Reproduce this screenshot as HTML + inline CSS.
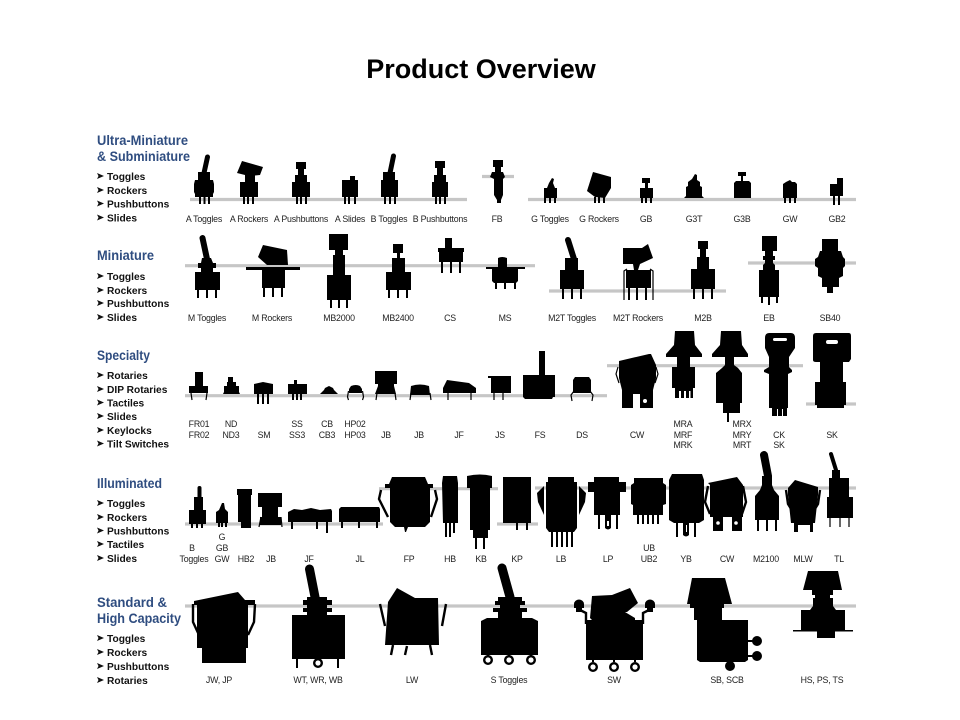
<!DOCTYPE html>
<html><head><meta charset="utf-8"><title>Product Overview</title>
<style>
html,body{margin:0;padding:0;background:#fff}
svg{display:block}
.l{stroke:#c6c6c6;stroke-width:3.2;fill:none}
.p{stroke:#000;stroke-width:2;fill:none}
.w{stroke:#000;stroke-width:1.2;fill:none}
.wing{stroke:#000;stroke-width:2.4;fill:none}
.hd{stroke:#000;fill:none;stroke-linecap:round}
text{font-family:"Liberation Sans",sans-serif}
.t{font-size:27px;font-weight:bold;fill:#000;text-anchor:middle}
.h{font-size:13.5px;font-weight:bold;fill:#2f4d80}
.i{font-size:10.2px;font-weight:bold;fill:#111}
.c{font-size:8.8px;letter-spacing:-.2px;fill:#222;text-anchor:middle}
.soft{filter:blur(.35px)}
</style></head><body>
<svg width="960" height="720" viewBox="0 0 960 720" xmlns="http://www.w3.org/2000/svg">
<rect width="960" height="720" fill="#fff"/>
<text class="t" x="481" y="78">Product Overview</text>

<g class="soft">
<!-- guide lines -->
<path class="l" d="M190 199.5H467M482 176.5H514M528 199.5H856
M185 265.7H535M549 291H726M748 263H856
M185 395.7H607M607 365.7H803M806 404H856
M185 524H383M379 488.7H498M497 524H538M535 488H856
M185 606H856"/>

<!-- Sidebar -->
<text class="h" x="97" y="145" textLength="91" lengthAdjust="spacingAndGlyphs">Ultra-Miniature</text>
<text class="h" x="97" y="161" textLength="93" lengthAdjust="spacingAndGlyphs">&amp; Subminiature</text>
<text class="i" x="107" y="180">Toggles</text><text class="i" x="107" y="194">Rockers</text><text class="i" x="107" y="207.500">Pushbuttons</text><text class="i" x="107" y="221.500">Slides</text>
<text class="h" x="97" y="260" textLength="57" lengthAdjust="spacingAndGlyphs">Miniature</text>
<text class="i" x="107" y="280">Toggles</text><text class="i" x="107" y="294">Rockers</text><text class="i" x="107" y="307">Pushbuttons</text><text class="i" x="107" y="321">Slides</text>
<text class="h" x="97" y="360" textLength="53" lengthAdjust="spacingAndGlyphs">Specialty</text>
<text class="i" x="107" y="379">Rotaries</text><text class="i" x="107" y="393">DIP Rotaries</text><text class="i" x="107" y="406.500">Tactiles</text><text class="i" x="107" y="420">Slides</text><text class="i" x="107" y="434">Keylocks</text><text class="i" x="107" y="447.500">Tilt Switches</text>
<text class="h" x="97" y="488" textLength="65" lengthAdjust="spacingAndGlyphs">Illuminated</text>
<text class="i" x="107" y="507">Toggles</text><text class="i" x="107" y="521">Rockers</text><text class="i" x="107" y="534.500">Pushbuttons</text><text class="i" x="107" y="548">Tactiles</text><text class="i" x="107" y="562">Slides</text>
<text class="h" x="97" y="607" textLength="70" lengthAdjust="spacingAndGlyphs">Standard &amp;</text>
<text class="h" x="97" y="623" textLength="84" lengthAdjust="spacingAndGlyphs">High Capacity</text>
<text class="i" x="107" y="642">Toggles</text><text class="i" x="107" y="656">Rockers</text><text class="i" x="107" y="670">Pushbuttons</text><text class="i" x="107" y="684">Rotaries</text>
<path fill="#111" d="M97 173l7 3-7 3 1.500-3zM97 187l7 3-7 3 1.500-3zM97 200.500l7 3-7 3 1.500-3zM97 214.500l7 3-7 3 1.500-3z
M97 273l7 3-7 3 1.500-3zM97 287l7 3-7 3 1.500-3zM97 300l7 3-7 3 1.500-3zM97 314l7 3-7 3 1.500-3z
M97 372l7 3-7 3 1.500-3zM97 386l7 3-7 3 1.500-3zM97 399.500l7 3-7 3 1.500-3zM97 413l7 3-7 3 1.500-3zM97 427l7 3-7 3 1.500-3zM97 440.500l7 3-7 3 1.500-3z
M97 500l7 3-7 3 1.500-3zM97 514l7 3-7 3 1.500-3zM97 527.500l7 3-7 3 1.500-3zM97 541l7 3-7 3 1.500-3zM97 555l7 3-7 3 1.500-3z
M97 635l7 3-7 3 1.500-3zM97 649l7 3-7 3 1.500-3zM97 663l7 3-7 3 1.500-3zM97 677l7 3-7 3 1.500-3z"/>

<!-- handles -->
<path class="hd" stroke-width="5" d="M207.500 157L204 173M393.500 156L390 173M568 240L574 259"/>
<path class="hd" stroke-width="6" d="M202.500 238L207 259M568 240L574 259"/>
<path class="hd" stroke-width="8" d="M764 455L768 476"/>
<path class="hd" stroke-width="4" d="M831 454L836 470M199.500 488V498"/>
<path class="hd" stroke-width="9" d="M309.500 569L315 597M502 568L510 597"/>

<!-- ROW 1 -->
<g fill="#000">
<path d="M198 172H210V180H213L214 184V192L213 194V197H195V194L194 192V184L195 180H198Z"/>
<path d="M242 161L263 167L260 175L255 175.500V182H258V197H240V182H245V175L237 173Z"/>
<path d="M296 162H306V169H304V175H307V182H310V197H292V182H295V175H298V169H296Z"/>
<path d="M350 176H355V180H358V197H342V180H350Z"/>
<path d="M383 180V172H395V180H398V197H381V180Z"/>
<path d="M435 161H445V168H443V175H446V182H448V197H432V182H434V175H437V168H435Z"/>
<path d="M493 160H503V167H501V172H503L505 177L503 179V195L501 200V203H497V200L494 195V179L490 177L492 172H495V167H493Z"/>
<path d="M552 178L554 179L553 183L555 188H557V198H544V188H547L549 183Z"/>
<path d="M593 172L611 177V188L605 198L595 197L587 191Z"/>
<path d="M642 178H650V183H648V188H653V198H640V188H645V183H642Z"/>
<path d="M695 174L697 175V180L700 182V186L702 187V196L704 198H684L686 196V187L688 186V182L692 179Z"/>
<path d="M738 172H746V176H743V181H749L751 183V198H734V183L736 181H741V176H738Z"/>
<path d="M790 180L792 182L795 182L797 184V198H783V184L786 182Z"/>
<path d="M837 178H843V196H830V184H837Z"/>
</g>
<path class="p" d="M200 197v7M204.500 197v7M209 197v7M244 197v7M248 197v7M253 197v7M297 197v7M301 197v7M306 197v7M345 197v7M349 197v7M355 197v7M385 197v7M390 197v7M395 197v7M436 197v7M440 197v7M445 197v7
M545 198v5M550 198v5M555 198v5M595 197v6M599 197v6M604 197v6M642 198v5M646 198v5M651 198v5M785 198v5M790 198v5M795 198v5M834 196v9M839 196v9"/>

<!-- ROW 2 -->
<g fill="#000">
<path d="M202 258H211L213 263H216V268H213V272H220V290H195V272H201V268H198V263H201Z"/>
<path d="M263 245L287 250L288 265H267L258 257Z"/>
<path d="M246 267H300V270H285V288H262V270H246Z"/>
<path d="M329 234H348V250H343V255H345V275H351V300H327V275H333V255H335V250H329Z"/>
<path d="M393 244H403V253H400V258H405V272H411V290H386V272H392V258H397V253H393Z"/>
<path d="M445 238H452V248H464V252H463V262H439V252H438V248H445Z"/>
<path d="M498 258Q502 256 507 258V267H525V269H518V281L516 283H494L492 281V269H486V267H498Z"/>
<path d="M565 258H578V270H584V289H560V270H565Z"/>
<path d="M623 248H642L648 244L653 258L640 264L638 270H651V288H626V270H634L633 264H623Z"/>
<path d="M698 241H708V249H706V257H709V269H715V289H691V269H697V257H700V249H698Z"/>
<path d="M762 236H777V251H773V256H775V260H773V263L775 265V270H779V297H759V270H763V265L765 263V260H763V256H765V251H762Z"/>
<path d="M822 239H838V251H841L843 257L845 259V266L843 268V276L839 278V287H833V293H827V287H822V278L818 276V268L815 266V259L818 257L820 251H822Z"/>
</g>
<path class="p" d="M198 290v8M207 290v8M216 290v8M264 288v9M273 288v9M282 288v9M331 300v8M339 300v8M347 300v8M389 290v8M398 290v8M407 290v8M442 262v11M451 262v11M460 262v11M496 283v6M505 283v6M515 283v6M563 289v10M572 289v10M581 289v10M629 288v12M637 288v12M646 288v12M694 289v10M703 289v10M712 289v10M762 297v6M769 297v8M777 297v6"/>
<path class="w" d="M624 300V271L627 269M653 300V271L650 269"/>

<!-- ROW 3 -->
<g fill="#000">
<path d="M195 372H203V386H208V393H189V386H195Z"/>
<path d="M228 377H233V382H236V386H239V392L240 394H223L224 392V386H227V382H228Z"/>
<path d="M254 384L263 382L273 384V394H254Z"/>
<path d="M294 380H297V384H307V394H288V384H294Z"/>
<path d="M320 394L324 390L325 388L329 386L333 388L334 390L338 394Z"/>
<path d="M351 386Q356 384 360 386L362 389V393H349V389Z"/>
<path d="M375 371H397V384H394V386L396 394H375L378 386V384H375Z"/>
<path d="M411 386Q420 383 429 386L430 395H410Z"/>
<path d="M443 388L447 380L469 383L476 388V393H443Z"/>
<path d="M488 376H511V393H491V378H488Z"/>
<path d="M539 351H545V375H555V397H553L552 399H525L523 397V375H539Z"/>
<path d="M575 377H589L591 380V393H573V380Z"/>
<path d="M619 361L649 354H651L656 365V378L653 390V408H640V394H633V408H622V390L619 378Z"/>
<path d="M675 331H694L695 345L702 354V357H690V367H695V388H693V398H675V388H672V367H677V357H666V354L674 345Z"/>
<path d="M721 331H741L742 345L748 354V357H734V365L738 368L742 373V403H740V413H723V403H716V373L722 368L725 365V357H712V354L720 345Z"/>
<path d="M769 333H791Q795 333 795 338V348L789 357V367L792 370V372L788 374V408H787V416H772V408H769V374L764 372V370L769 367V357L765 348V338Q765 333 769 333Z"/>
<path d="M816 333H849Q851 333 851 336V359L849 362H843V382H846V405H844V408H817V405H815V382H820V362H816Q813 362 813 360V336Q813 333 816 333Z"/>
</g>
<rect x="773" y="338" width="14" height="3" rx="1.500" fill="#fff"/>
<rect x="826" y="340" width="12" height="4" rx="2" fill="#fff"/>
<circle cx="645" cy="401" r="2" fill="#fff"/>
<path class="w" d="M191 393l1 7M207 393l-1 7M348.500 391l-1 6 1 3M362.500 391l1 6-1 3M377 393l-1 7M395 393l1 7M411 393l-1 7M430 393l1 7M448 393v7M471 393v7M494 393v7M503 393v7M574 391l-3 4 1 6M590 391l3 4-1 6"/>
<path class="w" d="M618 367l-2 7 3 9M656 367l2 7-3 9"/>
<path class="p" d="M258 394v10M263 394v10M268 394v10M293 394v6M297 394v6M301 394v6"/>
<path d="M728 413v9" stroke="#000" stroke-width="2"/>
<path fill="#fff" d="M679 391h2v7h-2zM684 391h2v7h-2zM689 391h1.500v7h-1.500zM777 409h1v7h-1zM782 409h1v7h-1z"/>

<!-- ROW 4 -->
<g fill="#000">
<path d="M194 497H203V510H206V524H189V510H194Z"/>
<path d="M222 503H224L225 509L228 512V523H216V512L219 510Z"/>
<path d="M237 489H252V495H251V522H250V528H241V522H238V495H237Z"/>
<path d="M258 493H282V507H278V517H281V525H260V517H262V507H258Z"/>
<path d="M288 512L294 509L302 510L311 508L320 510L331 509L332 511V522H288Z"/>
<path d="M339 509L341 507H379L380 509V522H339Z"/>
<path d="M392 477H425L428 484H433V488H430V522L425 527H408L406 532H405L404 527H395L390 522V488H385V484H389Z"/>
<path d="M443 476H457L458 483V523H443L442 483Z"/>
<path d="M467 476Q480 473 492 476V488H490V530H488V538H473V530H470V488H467Z"/>
<path d="M503 477H531V523H503Z"/>
<path d="M548 477H574V482H577V528L574 532H549L546 528V482H548Z"/>
<path d="M544 486L537 493L538 502L544 515ZM579 486L586 493L585 502L579 515Z"/>
<path d="M594 477H619V482H626V492H620V515H611V528Q608 531 605 528V515H594V492H588V482H594Z"/>
<path d="M634 478H663V483L666 485V504L663 505V515H633V505L631 504V485L634 483Z"/>
<path d="M672 474H702L704 480V520L699 523H674L669 520V480Z"/>
<path d="M683 523H689V535Q686 538 683 535Z"/>
<path d="M708 483L737 477L743 485V517H742V531H732V517H723V531H713V517H710V485Z"/>
<path d="M762 476H772V485L774 490L779 496V520H755V496L760 490L762 485Z"/>
<path d="M788 488L795 480L818 487V495L815 523H813V532H810V525H798V532H794V523H791L788 495Z"/>
<path d="M832 470H840V478H849V497H853V518H827V497H829V478H832Z"/>
</g>
<circle cx="718" cy="523" r="1.800" fill="#fff"/><circle cx="736" cy="523" r="1.800" fill="#fff"/><rect x="607" y="521" width="2" height="5" fill="#fff"/><rect x="686" y="525" width="1" height="7" fill="#fff"/>
<path class="p" d="M192 524v4M197 524v4M202 524v4M219 523v4M222 523v4M226 523v4M242 522v6M246 522v6M250 522v6M292 522v7M317 522v7M327 522v11M342 522v6M359 522v6M377 522v6M446 523v14M450 523v14M454 523v10M476 538v11M484 538v11M517 523v7M527 523v7M552 532v15M557 532v15M562 532v15M567 532v15M572 532v15M599 515v14M617 515v14M638 515v9M643 515v9M648 515v9M653 515v9M658 515v9M677 523v14M695 523v14M758 520v11M767 520v11M776 520v11"/>
<path class="w" d="M830 518v9M840 518v9M849 518v9M261 517l-2 10M281 517l1 10"/>
<path class="wing" d="M381 490L379 499L388 517M435 490L437 499L431 517M708 486L705 502L710 514M743 486L746 502L742 514M786 490L788 504L793 512M820 490L818 504L813 512"/>

<!-- ROW 5 -->
<g fill="#000">
<path d="M194 601L238 592L245 600H255V605H248V648H246V663H202V648H197V605H194Z"/>
<path d="M307 597H327V600H332V605H327V608H332V612H327V615H345V659H292V615H307V612H303V608H307V605H303V600H307Z"/>
<path d="M388 602L397 588L415 598H438L439 645H385Z"/>
<path d="M498 597H522V601H525V605H520V608H527V612H522V618H532L538 621V655H481V621L487 618H498V612H493V608H500V605H495V601H498Z"/>
<path d="M592 596L612 595L630 588L638 603L627 612H625L635 618V620H643V660H586V620H592L590 618Z"/>
<path d="M692 578H725L732 604H724V608H722V620H748V660L745 662H700L697 660V620H694V608H690V604H687Z"/>
<path d="M808 571H838L842 590H833V595H830V598H833V606L836 610H845V630H853V631.500H835V638H817V631.500H793V630H801V610H810L813 606V598H815V595H812V590H803Z"/>
<path d="M752 641a5 5 0 1 0 10 0 5 5 0 1 0-10 0zM752 656a5 5 0 1 0 10 0 5 5 0 1 0-10 0zM725 666a5 5 0 1 0 10 0 5 5 0 1 0-10 0z"/>
<path d="M574 604a5 4.500 0 1 1 10 0V608H582V612H576V608H574ZM645 604a5 4.500 0 1 1 10 0V608H653V612H647V608H645Z"/>
</g>
<path class="wing" d="M193 604L193 622L199 635M255 604L254 622L248 635M380 604L385 626M446 604L442 626M393 645L391 655M407 646L405 655M430 645L432 655M643 624V613L649 610M586 624V613L580 610"/>
<path class="p" d="M297 659v9M338 659v9M488 655v2M509 655v2M531 655v2M593 660v2M614 660v2M635 660v2M748 641h5M748 656h5M730 662v2"/>
<g fill="none" stroke="#000" stroke-width="2.400">
<circle cx="318" cy="663" r="3.800"/>
<circle cx="488" cy="660" r="3.800"/><circle cx="509" cy="660" r="3.800"/><circle cx="531" cy="660" r="3.800"/>
<circle cx="593" cy="667" r="3.800"/><circle cx="614" cy="667" r="3.800"/><circle cx="635" cy="667" r="3.800"/>
</g>

<!-- LABELS -->
<text class="c" x="204" y="222">A Toggles</text><text class="c" x="249" y="222">A Rockers</text><text class="c" x="301" y="222">A Pushbuttons</text><text class="c" x="350" y="222">A Slides</text><text class="c" x="389" y="222">B Toggles</text><text class="c" x="440" y="222">B Pushbuttons</text><text class="c" x="497" y="222">FB</text>
<text class="c" x="550" y="222">G Toggles</text><text class="c" x="599" y="222">G Rockers</text><text class="c" x="646" y="222">GB</text><text class="c" x="694" y="222">G3T</text><text class="c" x="742" y="222">G3B</text><text class="c" x="790" y="222">GW</text><text class="c" x="837" y="222">GB2</text>

<text class="c" x="207" y="321">M Toggles</text><text class="c" x="272" y="321">M Rockers</text><text class="c" x="339" y="321">MB2000</text><text class="c" x="398" y="321">MB2400</text><text class="c" x="450" y="321">CS</text><text class="c" x="505" y="321">MS</text><text class="c" x="572" y="321">M2T Toggles</text><text class="c" x="638" y="321">M2T Rockers</text><text class="c" x="703" y="321">M2B</text><text class="c" x="769" y="321">EB</text><text class="c" x="830" y="321">SB40</text>

<text class="c" x="199" y="427">FR01</text><text class="c" x="199" y="438">FR02</text>
<text class="c" x="231" y="427">ND</text><text class="c" x="231" y="438">ND3</text>
<text class="c" x="264" y="438">SM</text>
<text class="c" x="297" y="427">SS</text><text class="c" x="297" y="438">SS3</text>
<text class="c" x="327" y="427">CB</text><text class="c" x="327" y="438">CB3</text>
<text class="c" x="355" y="427">HP02</text><text class="c" x="355" y="438">HP03</text>
<text class="c" x="386" y="438">JB</text><text class="c" x="419" y="438">JB</text><text class="c" x="459" y="438">JF</text><text class="c" x="500" y="438">JS</text><text class="c" x="540" y="438">FS</text><text class="c" x="582" y="438">DS</text><text class="c" x="637" y="438">CW</text>
<text class="c" x="683" y="427">MRA</text><text class="c" x="683" y="438">MRF</text><text class="c" x="683" y="448">MRK</text>
<text class="c" x="742" y="427">MRX</text><text class="c" x="742" y="438">MRY</text><text class="c" x="742" y="448">MRT</text>
<text class="c" x="779" y="438">CK</text><text class="c" x="779" y="448">SK</text><text class="c" x="832" y="438">SK</text>

<text class="c" x="192" y="551">B</text><text class="c" x="194" y="562">Toggles</text>
<text class="c" x="222" y="540">G</text><text class="c" x="222" y="551">GB</text><text class="c" x="222" y="562">GW</text>
<text class="c" x="246" y="562">HB2</text><text class="c" x="271" y="562">JB</text><text class="c" x="309" y="562">JF</text><text class="c" x="360" y="562">JL</text><text class="c" x="409" y="562">FP</text><text class="c" x="450" y="562">HB</text><text class="c" x="481" y="562">KB</text><text class="c" x="517" y="562">KP</text><text class="c" x="561" y="562">LB</text><text class="c" x="608" y="562">LP</text>
<text class="c" x="649" y="551">UB</text><text class="c" x="649" y="562">UB2</text>
<text class="c" x="686" y="562">YB</text><text class="c" x="727" y="562">CW</text><text class="c" x="766" y="562">M2100</text><text class="c" x="803" y="562">MLW</text><text class="c" x="839" y="562">TL</text>

<text class="c" x="219" y="683">JW, JP</text><text class="c" x="318" y="683">WT, WR, WB</text><text class="c" x="412" y="683">LW</text><text class="c" x="509" y="683">S Toggles</text><text class="c" x="614" y="683">SW</text><text class="c" x="727" y="683">SB, SCB</text><text class="c" x="822" y="683">HS, PS, TS</text>
</g>
</svg>
</body></html>
